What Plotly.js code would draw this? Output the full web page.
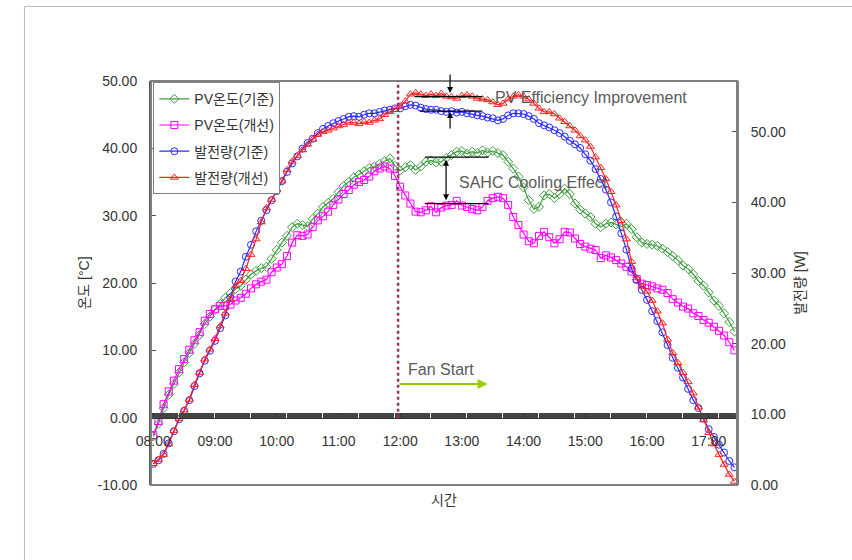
<!DOCTYPE html>
<html><head><meta charset="utf-8">
<script src="https://cdn.plot.ly/plotly-3.0.1.min.js"></script>
<style>html,body{margin:0;padding:0;background:#fff}#chart{width:852px;height:560px}</style>
</head><body><div id="chart"></div>
<script>
const times = [
'08:00','08:05','08:10','08:15','08:20','08:25','08:30','08:35','08:40','08:45','08:50','08:55',
'09:00','09:05','09:10','09:15','09:20','09:25','09:30','09:35','09:40','09:45','09:50','09:55',
'10:00','10:05','10:10','10:15','10:20','10:25','10:30','10:35','10:40','10:45','10:50','10:55',
'11:00','11:05','11:10','11:15','11:20','11:25','11:30','11:35','11:40','11:45','11:50','11:55',
'12:00','12:05','12:10','12:15','12:20','12:25','12:30','12:35','12:40','12:45','12:50','12:55',
'13:00','13:05','13:10','13:15','13:20','13:25','13:30','13:35','13:40','13:45','13:50','13:55',
'14:00','14:05','14:10','14:15','14:20','14:25','14:30','14:35','14:40','14:45','14:50','14:55',
'15:00','15:05','15:10','15:15','15:20','15:25','15:30','15:35','15:40','15:45','15:50','15:55',
'16:00','16:05','16:10','16:15','16:20','16:25','16:30','16:35','16:40','16:45','16:50','16:55',
'17:00','17:05','17:10','17:15','17:20','17:25'];

// PV온도(기준) [°C]
const pvTempBase = [
-2.8,-0.9,1.4,3.4,5.0,6.7,8.2,9.6,11.0,12.3,13.9,15.0,
16.0,16.9,17.8,18.5,19.1,19.6,20.5,21.3,21.8,22.2,22.4,23.6,
24.9,26.0,27.0,28.3,28.8,28.6,28.4,29.5,30.3,31.3,31.9,32.5,
33.5,34.4,35.0,35.7,36.1,36.6,37.1,37.3,37.7,38.1,38.5,37.4,
36.7,37.2,37.5,36.8,37.3,38.0,38.2,37.9,38.0,38.6,39.0,39.5,
39.6,39.2,39.5,39.3,39.7,39.4,39.6,39.3,39.0,38.0,37.0,35.8,
34.2,32.3,31.0,31.3,33.0,33.2,32.6,33.2,34.0,33.2,31.8,30.9,
30.3,29.8,28.8,28.3,28.8,29.0,28.7,28.4,28.8,28.0,26.8,26.0,
25.8,25.7,25.5,25.1,24.6,24.0,23.4,22.6,22.1,21.3,20.3,19.6,
18.6,17.4,16.6,15.5,14.2,12.8];

// PV온도(개선) [°C]
const pvTempImproved = [
-2.6,-0.5,2.0,3.9,5.5,7.2,8.7,10.1,11.5,12.7,14.4,15.4,
16.1,16.6,16.6,16.8,17.4,17.8,18.4,19.2,19.8,20.2,20.5,21.6,
22.3,22.8,24.0,26.0,27.1,27.0,27.2,28.3,29.3,29.9,30.6,31.6,
32.4,33.2,33.8,34.6,35.0,35.3,35.8,36.6,37.0,37.3,37.0,35.9,
34.3,33.0,31.8,30.6,30.5,30.8,31.4,30.5,31.2,31.5,31.6,32.2,
31.5,31.3,31.0,30.8,31.3,32.2,32.6,32.8,32.6,31.6,29.8,28.6,
27.2,26.2,25.9,27.0,27.6,26.8,25.9,26.5,27.6,27.5,26.6,25.8,
25.4,25.1,24.9,23.7,24.1,23.8,23.4,22.9,22.4,21.7,20.6,19.9,
19.7,19.5,19.2,19.0,18.5,17.6,17.1,16.5,16.2,15.5,15.1,14.5,
14.1,13.5,12.9,12.2,11.2,10.0];

// 발전량(기준) [W]
const powerBase = [
3.0,3.5,4.4,5.9,7.6,9.3,10.5,12.0,14.0,15.8,17.6,19.0,
20.4,22.2,24.0,26.5,28.8,30.2,32.3,34.0,35.9,37.4,38.9,40.3,
41.6,43.0,44.3,45.5,46.5,47.6,48.4,49.0,49.8,50.4,50.8,51.2,
51.5,51.8,52.1,52.2,52.1,52.4,52.6,52.6,52.8,53.0,53.1,53.3,
53.3,53.6,53.8,53.7,53.4,53.2,53.1,53.1,52.9,52.8,52.9,52.7,
52.8,52.6,52.5,52.3,52.2,52.0,51.9,51.6,51.8,52.3,52.6,52.6,
52.5,52.2,51.8,51.2,50.9,50.6,50.2,49.8,49.3,48.7,48.2,47.7,
46.8,45.9,44.7,43.3,41.8,40.0,38.0,35.6,33.3,30.6,29.0,27.6,
26.2,24.6,23.2,21.6,19.8,18.0,16.6,15.2,13.6,12.0,10.9,9.4,
7.9,6.8,5.7,4.6,3.4,2.5];

// 발전량(개선) [W]
const powerImproved = [
3.0,3.6,4.3,5.8,7.7,9.4,10.6,12.1,14.2,15.9,17.8,19.2,
20.7,22.5,24.3,26.3,28.2,28.9,30.6,32.6,34.8,37.2,39.2,40.4,
41.8,43.0,44.6,45.8,46.6,47.4,48.2,48.9,49.6,50.0,50.2,50.5,
50.8,51.0,51.3,51.3,51.1,51.4,51.3,51.6,51.8,52.4,52.8,53.1,
53.6,54.3,55.3,55.5,55.3,55.1,55.3,55.1,55.4,55.0,54.9,54.7,
55.1,55.2,55.0,54.7,54.6,54.5,54.2,53.8,54.0,54.6,55.0,55.2,
55.0,54.6,54.0,53.3,52.8,52.8,52.5,51.9,51.4,50.8,50.2,49.4,
48.8,47.9,46.4,44.9,43.3,41.5,39.6,37.4,34.8,31.6,29.3,28.1,
27.4,26.1,24.6,22.9,20.6,18.7,17.3,15.9,14.6,13.0,11.0,9.2,
7.4,5.8,4.3,2.9,1.5,0.5];

const seriesNames = ['PV온도(기준)','PV온도(개선)','발전량(기준)','발전량(개선)'];
const yTickVals = [-10,0,10,20,30,40,50];
const yTickText = ['-10.00','0.00','10.00','20.00','30.00','40.00','50.00'];
const y2TickVals = [0,10,20,30,40,50];
const y2TickText = ['0.00','10.00','20.00','30.00','40.00','50.00'];

const day = '2024-01-01 ';
const x = times.map(t => day + t);
const FONT = '"Liberation Sans", Arial, "Noto Sans CJK KR", sans-serif';

function mk(name, y, color, symbol, axis, group) {
  return {type:'scatter', mode:'lines+markers', name:name, x:x, y:y, yaxis:axis, legendgroup:group,
    line:{color:color, width:1.2}, marker:{symbol:symbol, size:7, color:color, line:{color:color, width:1}}};
}

const data = [
  mk(seriesNames[0], pvTempBase, '#3f9d3f', 'diamond-open', 'y', 'g1'),
  mk(seriesNames[1], pvTempImproved, '#ff00ff', 'square-open', 'y', 'g2'),
  mk(seriesNames[2], powerBase, '#2b2bff', 'circle-open', 'y2', 'g3'),
  mk(seriesNames[3], powerImproved, '#ff2020', 'triangle-up-open', 'y2', 'g4')
];

const annFont = {family:FONT, size:16, color:'#5a5a5a'};

const layout = {
  width:852, height:560,
  margin:{l:151, r:115, t:81, b:75},
  paper_bgcolor:'#ffffff', plot_bgcolor:'#ffffff',
  font:{family:FONT, size:14, color:'#333333'},
  showlegend:true,
  legend:{x:0.004, y:0.997, xanchor:'left', yanchor:'top', bgcolor:'#ffffff',
    bordercolor:'#808080', borderwidth:1, font:{family:FONT, size:14, color:'#333333'},
    traceorder:'grouped', tracegroupgap:5, itemwidth:30},
  xaxis:{type:'date', range:[day+'07:57:46', day+'17:27:30'], anchor:'free', position:10/60,
    showline:true, linecolor:'#333333', linewidth:1.5,
    ticks:'inside', ticklen:5, tickcolor:'#333333', tickwidth:1,
    tick0:day+'08:00', dtick:3600000, tickformat:'%H:%M', ticklabelstandoff:10,
    showgrid:false, zeroline:false, tickfont:{family:FONT, size:14, color:'#333333'},
    minor:{dtick:60000, ticks:'inside', ticklen:5, tickcolor:'#444444', tickwidth:1, showgrid:false}},
  yaxis:{range:[-10,50], tickmode:'array', tickvals:yTickVals, ticktext:yTickText, ticks:'inside', ticklen:5,
    tickcolor:'#555555', showline:true, linecolor:'#555555', linewidth:2, showgrid:false, zeroline:false,
    ticklabelstandoff:9, tickfont:{family:FONT, size:14, color:'#333333'},
    title:{text:'온도 [°C]', standoff:5, font:{family:FONT, size:14, color:'#333333'}}},
  yaxis2:{overlaying:'y', side:'right', range:[0,57.17], tickmode:'array', tickvals:y2TickVals, ticktext:y2TickText,
    ticks:'inside', ticklen:5, tickcolor:'#555555', showline:true, linecolor:'#808080', linewidth:2,
    showgrid:false, zeroline:false, ticklabelstandoff:9, tickfont:{family:FONT, size:14, color:'#333333'},
    title:{text:'발전량 [W]', standoff:10, font:{family:FONT, size:14, color:'#333333'}}},
  shapes:[
    {type:'rect', xref:'paper', yref:'paper', x0:0, x1:1, y0:0, y1:1, line:{color:'#808080', width:2}},
    {type:'path', xref:'paper', yref:'paper', path:'M -0.2159,-0.25 L -0.2159,1.1844 L 1.25,1.1844', line:{color:'#bdbdbd', width:1}},
    {type:'line', xref:'x', yref:'y', x0:day+'11:58', x1:day+'11:58', y0:0, y1:50, line:{color:'#993366', width:2.5, dash:'dot'}},
    {type:'line', xref:'x', yref:'y2', x0:day+'12:14', x1:day+'13:20', y0:54.95, y1:54.95, line:{color:'#000000', width:1.3}},
    {type:'line', xref:'x', yref:'y2', x0:day+'12:19', x1:day+'13:20', y0:52.9, y1:52.9, line:{color:'#000000', width:1.3}},
    {type:'line', xref:'x', yref:'y', x0:day+'12:24', x1:day+'13:26', y0:38.7, y1:38.7, line:{color:'#000000', width:1.3}},
    {type:'line', xref:'x', yref:'y', x0:day+'12:24', x1:day+'13:26', y0:31.8, y1:31.8, line:{color:'#000000', width:1.3}}
  ],
  annotations:[
    {x:day+'12:48:32', y:55.48, xref:'x', yref:'y2', text:'', showarrow:true, ax:0, ay:-20, arrowhead:2, arrowsize:1, arrowwidth:1.2, arrowcolor:'#000000'},
    {x:day+'12:48:32', y:52.8, xref:'x', yref:'y2', text:'', showarrow:true, ax:0, ay:18, arrowhead:2, arrowsize:1, arrowwidth:1.2, arrowcolor:'#000000'},
    {x:day+'12:44:38', y:32.3, xref:'x', yref:'y', text:'', showarrow:true, ax:0, ay:-42, arrowhead:2, startarrowhead:2, arrowside:'end+start', arrowsize:1, arrowwidth:1.2, arrowcolor:'#000000'},
    {x:day+'13:25', y:5.0, xref:'x', yref:'y', ax:day+'11:58', ay:5.0, axref:'x', ayref:'y', text:'', showarrow:true, arrowhead:2, arrowsize:1, arrowwidth:2, arrowcolor:'#99cc00'},
    {x:day+'12:40', y:7.1, xref:'x', yref:'y', text:'Fan Start', showarrow:false, font:annFont},
    {x:day+'15:06', y:54.8, xref:'x', yref:'y2', text:'PV Efficiency Improvement', showarrow:false, font:annFont},
    {x:day+'14:09:36', y:34.9, xref:'x', yref:'y', text:'SAHC Cooling Effect', showarrow:false, font:annFont},
    {x:0.5, y:-0.062, xref:'paper', yref:'paper', text:'시간', showarrow:false, font:{family:FONT, size:14, color:'#333333'}}
  ]
};

Plotly.newPlot('chart', data, layout, {displayModeBar:false, staticPlot:true});
</script>
</body></html>
